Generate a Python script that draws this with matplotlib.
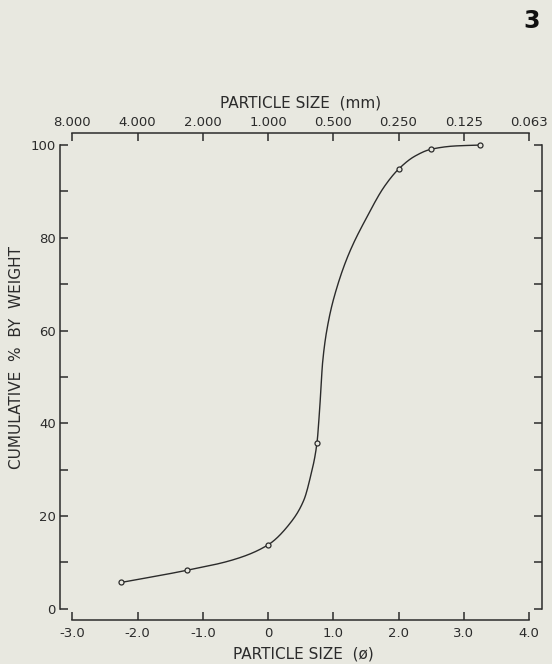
import numpy as np
import matplotlib
matplotlib.use("Agg")
import matplotlib.pyplot as plt
from matplotlib.ticker import MultipleLocator

# sieve data (phi, cumulative %)
phi_pts = [-2.25, -1.25, 0.0, 0.75, 2.0, 2.5, 3.25]
pct_pts = [5.7, 8.3, 13.8, 35.8, 94.8, 99.1, 100.0]

# hand drawn curve
curve_phi = [-2.25, -1.25, -0.53, 0.0, 0.34, 0.55, 0.65, 0.75, 0.79, 0.84,
             0.93, 1.06, 1.24, 1.52, 1.78, 2.0, 2.25, 2.5, 2.86, 3.25]
curve_pct = [5.7, 8.3, 10.6, 13.8, 18.5, 23.5, 28.5, 35.8, 42.9, 53.7,
             62.3, 69.5, 76.6, 84.6, 91.0, 94.8, 97.6, 99.1, 99.8, 100.0]

phi_ticks = [-3, -2, -1, 0, 1, 2, 3, 4]
phi_labels = ["-3.0", "-2.0", "-1.0", "0", "1.0", "2.0", "3.0", "4.0"]
mm_labels = ["8.000", "4.000", "2.000", "1.000", "0.500", "0.250", "0.125", "0.063"]


def pchip(x, y, xn):
    # monotone cubic (Fritsch-Carlson)
    x = np.asarray(x, float)
    y = np.asarray(y, float)
    h = np.diff(x)
    d = np.diff(y) / h
    m = np.zeros_like(y)
    for k in range(1, len(x) - 1):
        if d[k - 1] * d[k] > 0:
            w1 = 2 * h[k] + h[k - 1]
            w2 = h[k] + 2 * h[k - 1]
            m[k] = (w1 + w2) / (w1 / d[k - 1] + w2 / d[k])
    m[0] = d[0]
    m[-1] = d[-1]
    idx = np.clip(np.searchsorted(x, xn) - 1, 0, len(x) - 2)
    t = (xn - x[idx]) / h[idx]
    h00 = 2 * t**3 - 3 * t**2 + 1
    h10 = t**3 - 2 * t**2 + t
    h01 = -2 * t**3 + 3 * t**2
    h11 = t**3 - t**2
    return (h00 * y[idx] + h10 * h[idx] * m[idx]
            + h01 * y[idx + 1] + h11 * h[idx] * m[idx + 1])


bg = "#e8e8e0"
ink = "#2b2b2b"
plt.rcParams["font.family"] = ["DejaVu Sans"]

fig = plt.figure(figsize=(5.52, 6.64), dpi=100, facecolor=bg)
ax = fig.add_axes([0.1087, 0.0663, 0.8732, 0.7334])
ax.set_facecolor(bg)

xs = np.linspace(curve_phi[0], curve_phi[-1], 600)
ax.plot(xs, pchip(curve_phi, curve_pct, xs), color=ink, lw=1.0)
ax.plot(phi_pts, pct_pts, "o", ms=3.6, mfc=bg, mec=ink, mew=0.9)

ax.set_xlim(-3.19, 4.20)
ax.set_ylim(-2.4, 102.6)

for s in ax.spines.values():
    s.set_color(ink)
    s.set_linewidth(1.1)
ax.spines["left"].set_bounds(0, 100)
ax.spines["right"].set_bounds(0, 100)
ax.spines["bottom"].set_bounds(-3, 4)
ax.spines["top"].set_bounds(-3, 4)

ax.set_xticks(phi_ticks)
ax.set_xticklabels(phi_labels)
ax.yaxis.set_major_locator(MultipleLocator(20))
ax.yaxis.set_minor_locator(MultipleLocator(10))
ax.tick_params(axis="both", which="both", direction="in", length=6, width=1.1,
               color=ink, labelcolor=ink, labelsize=9.5)
ax.tick_params(axis="y", which="both", right=True)
ax.tick_params(axis="x", pad=5)
ax.tick_params(axis="y", pad=3)

top = ax.twiny()
top.set_xlim(ax.get_xlim())
for s in top.spines.values():
    s.set_visible(False)
top.set_xticks(phi_ticks)
top.set_xticklabels(mm_labels)
top.tick_params(axis="x", direction="in", length=6, width=1.1, color=ink,
                labelcolor=ink, labelsize=9.5, pad=3)

ax.set_xlabel("PARTICLE SIZE  (\u00f8)", fontsize=11, color=ink)
ax.xaxis.set_label_coords(0.504, -0.054)
top.set_xlabel("PARTICLE SIZE  (mm)", fontsize=11, color=ink, labelpad=6)
ax.set_ylabel("CUMULATIVE  %  BY  WEIGHT", fontsize=11, color=ink)
ax.yaxis.set_label_coords(-0.074, 0.54)

fig.text(0.963, 0.968, "3", fontsize=17, fontweight="bold", color="#111111",
         ha="center", va="center")

fig.savefig("out.png", dpi=100, facecolor=bg)
